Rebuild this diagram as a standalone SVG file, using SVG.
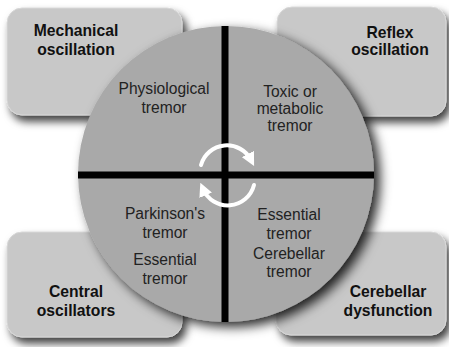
<svg xmlns="http://www.w3.org/2000/svg" width="449" height="347" viewBox="0 0 449 347">
<style>
.box{fill:#c8c8c8;stroke:#d8d8d8;stroke-width:1;filter:url(#sh)}
.lbl{font-family:"Liberation Sans",Arial,sans-serif;font-weight:bold;font-size:15.7px;fill:#111;text-anchor:middle}
.qt{font-family:"Liberation Sans",Arial,sans-serif;font-size:15.6px;fill:#222;text-anchor:middle}
.cross{stroke:#000;stroke-width:7}
.arr{fill:none;stroke:#fff;stroke-width:4;stroke-linecap:round}
</style>
<defs>
<filter id="sh" x="-20%" y="-20%" width="150%" height="150%">
<feDropShadow dx="4" dy="6" stdDeviation="4" flood-color="#000" flood-opacity="0.75"/>
</filter>
<filter id="csh" x="-20%" y="-20%" width="150%" height="150%">
<feDropShadow dx="6" dy="5" stdDeviation="6" flood-color="#000" flood-opacity="0.85"/>
</filter>
<marker id="ah" viewBox="0 0 10 10" refX="5" refY="5" markerWidth="3.4" markerHeight="3.4" orient="auto" markerUnits="strokeWidth">
<path d="M0,0 L10,5 L0,10 z" fill="#fff"/>
</marker>
</defs>
<rect width="449" height="347" fill="#fff"/>
<g id="box-mechanical">
<rect class="box" x="7" y="8" width="175" height="107" rx="15"/>
<text class="lbl" x="76" y="36">Mechanical</text>
<text class="lbl" x="76" y="55">oscillation</text>
</g>
<g id="box-reflex">
<rect class="box" x="277" y="7" width="169" height="109" rx="15"/>
<text class="lbl" x="390" y="38">Reflex</text>
<text class="lbl" x="390" y="55">oscillation</text>
</g>
<g id="box-central">
<rect class="box" x="7" y="232" width="175" height="105" rx="15"/>
<text class="lbl" x="76" y="297">Central</text>
<text class="lbl" x="76" y="316">oscillators</text>
</g>
<g id="box-cerebellar">
<rect class="box" x="276" y="232" width="170" height="103" rx="15"/>
<text class="lbl" x="388" y="297">Cerebellar</text>
<text class="lbl" x="388" y="316">dysfunction</text>
</g>
<g id="circle">
<circle cx="226" cy="174" r="148" fill="#a9a9a9" filter="url(#csh)"/>
<line class="cross" x1="225" y1="26" x2="225" y2="322"/>
<line class="cross" x1="78" y1="175" x2="374" y2="175"/>
</g>
<g id="q-physiological">
<text class="qt" x="164" y="94">Physiological</text>
<text class="qt" x="164" y="113">tremor</text>
</g>
<g id="q-toxic">
<text class="qt" x="290" y="97">Toxic or</text>
<text class="qt" x="290" y="114">metabolic</text>
<text class="qt" x="290" y="131">tremor</text>
</g>
<g id="q-central">
<text class="qt" x="165" y="219">Parkinson's</text>
<text class="qt" x="165" y="238">tremor</text>
<text class="qt" x="165" y="265">Essential</text>
<text class="qt" x="165" y="284">tremor</text>
</g>
<g id="q-cerebellar">
<text class="qt" x="289" y="220">Essential</text>
<text class="qt" x="289" y="239">tremor</text>
<text class="qt" x="289" y="259">Cerebellar</text>
<text class="qt" x="289" y="277">tremor</text>
</g>
<g id="connectors">
<path class="arr" d="M201,165 A27,27 0 0 1 251,160" marker-end="url(#ah)"/>
<path class="arr" d="M254,185 A27,27 0 0 1 203,189" marker-end="url(#ah)"/>
</g>
</svg>
